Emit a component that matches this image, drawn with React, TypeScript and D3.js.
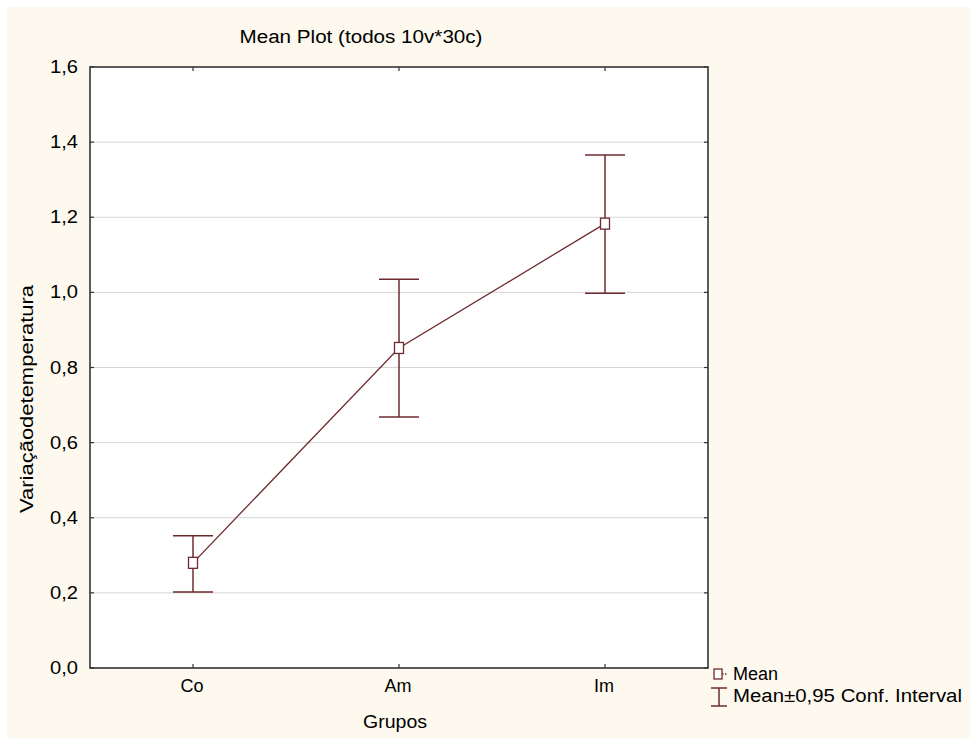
import React from 'react';
import * as d3 from 'd3';

const groups = ['Co', 'Am', 'Im'];
const means = [0.28, 0.852, 1.183];
const ciLow = [0.202, 0.668, 0.998];
const ciHigh = [0.352, 1.035, 1.366];
const yTicks = [0, 0.2, 0.4, 0.6, 0.8, 1.0, 1.2, 1.4, 1.6];

const W = 970;
const H = 738;
const left = 90;
const right = 708;
const top = 67;
const bottom = 668;
const lineColor = '#6e2b2f';
const fmt = (v: number) => v.toFixed(1).replace('.', ',');

export default function App() {
  const x = d3.scalePoint<string>().domain(groups).range([left, right]).padding(0.5);
  const y = d3.scaleLinear().domain([0, 1.6]).range([bottom, top]);
  const line = d3.line<number>().x((_, i) => x(groups[i]) as number).y((d) => y(d));
  const font = 'Liberation Sans, Arial, sans-serif';
  const cap = 20;
  const fs = 18;

  return (
    <svg width={W} height={H} style={{ position: 'absolute', left: 0, top: 0 }} fontFamily={font}>
      <rect x={0} y={0} width={W} height={H} fill="#ffffff" />
      <rect x={7} y={7} width={W - 7} height={H - 7} fill="#fdf9ee" />
      <rect x={left} y={top} width={right - left} height={bottom - top} fill="#ffffff" />

      {yTicks.slice(1, -1).map((t) => (
        <line key={'g' + t} x1={left} x2={right} y1={y(t)} y2={y(t)} stroke="#d6d6d6" strokeWidth={1} />
      ))}

      <text x={361} y={43} textAnchor="middle" fontSize={fs} fill="#000" textLength={243} lengthAdjust="spacingAndGlyphs">
        Mean Plot (todos 10v*30c)
      </text>

      {yTicks.map((t) => (
        <g key={'t' + t}>
          <line x1={left} x2={left + 4} y1={y(t)} y2={y(t)} stroke="#333" strokeWidth={1.2} />
          <line x1={right - 4} x2={right} y1={y(t)} y2={y(t)} stroke="#333" strokeWidth={1.2} />
          <text x={left - 12} y={y(t) + 6} textAnchor="end" fontSize={fs} fill="#000" textLength={28} lengthAdjust="spacingAndGlyphs">
            {fmt(t)}
          </text>
        </g>
      ))}

      {groups.map((g) => (
        <g key={'x' + g}>
          <line x1={x(g)} x2={x(g)} y1={bottom} y2={bottom - 4} stroke="#333" strokeWidth={1.2} />
          <line x1={x(g)} x2={x(g)} y1={top} y2={top + 4} stroke="#333" strokeWidth={1.2} />
          <text x={(x(g) as number) - 1} y={bottom + 24} textAnchor="middle" fontSize={fs} fill="#000">{g}</text>
        </g>
      ))}

      <rect x={left} y={top} width={right - left} height={bottom - top} fill="none" stroke="#333" strokeWidth={1.6} />

      <text x={395} y={728} textAnchor="middle" fontSize={fs} fill="#000" textLength={64} lengthAdjust="spacingAndGlyphs">Grupos</text>
      <text transform="translate(33,399) rotate(-90)" textAnchor="middle" fontSize={19} fill="#000" textLength={228} lengthAdjust="spacingAndGlyphs">
        Variaçãodetemperatura
      </text>

      <path d={line(means) || ''} fill="none" stroke={lineColor} strokeWidth={1.3} />

      {groups.map((g, i) => {
        const cx = x(g) as number;
        return (
          <g key={'e' + g} stroke={lineColor} strokeWidth={1.5}>
            <line x1={cx} x2={cx} y1={y(ciHigh[i])} y2={y(ciLow[i])} />
            <line x1={cx - cap} x2={cx + cap} y1={y(ciHigh[i])} y2={y(ciHigh[i])} />
            <line x1={cx - cap} x2={cx + cap} y1={y(ciLow[i])} y2={y(ciLow[i])} />
            <rect x={cx - 4.5} y={y(means[i]) - 5.5} width={9} height={11} fill="#ffffff" strokeWidth={1.3} />
          </g>
        );
      })}

      <g stroke={lineColor} strokeWidth={1.3}>
        <rect x={714} y={669} width={8} height={10} fill="#ffffff" />
        <line x1={722} x2={728} y1={674} y2={674} strokeDasharray="1.5,1.5" />
        <line x1={719} x2={719} y1={688} y2={706} strokeWidth={1.5} />
        <line x1={711} x2={727} y1={688} y2={688} strokeWidth={1.5} />
        <line x1={711} x2={727} y1={706} y2={706} strokeWidth={1.5} />
      </g>
      <text x={733} y={680} fontSize={fs} fill="#000">Mean</text>
      <text x={733} y={702} fontSize={fs} fill="#000" textLength={229} lengthAdjust="spacingAndGlyphs">
        Mean±0,95 Conf. Interval
      </text>
    </svg>
  );
}
